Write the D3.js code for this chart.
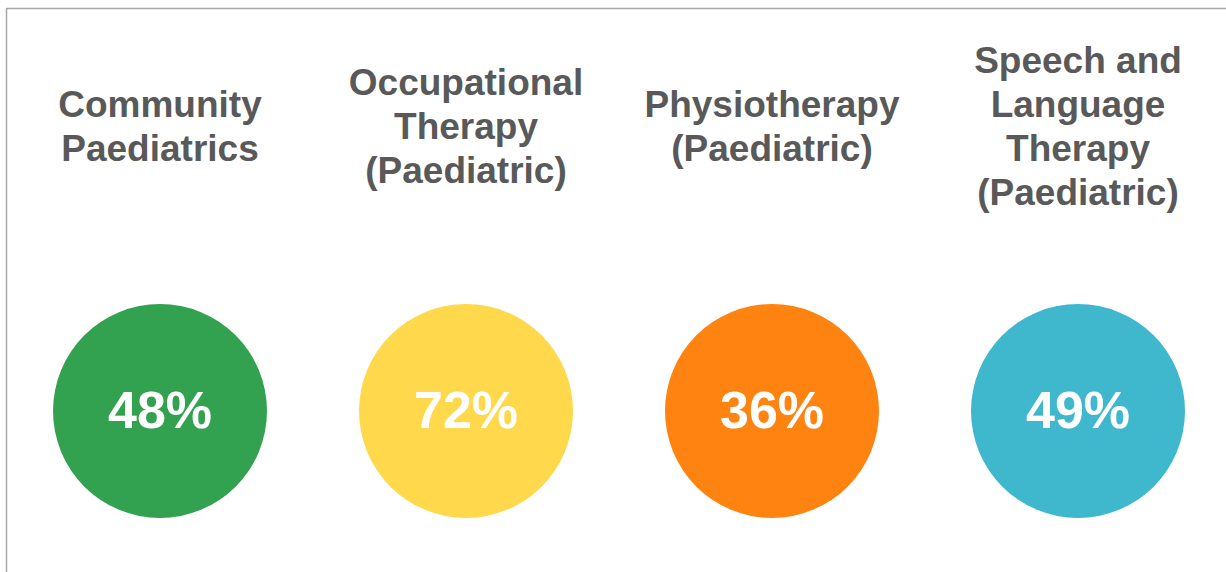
<!DOCTYPE html>
<html>
<head>
<meta charset="utf-8">
<script src="https://cdn.jsdelivr.net/npm/d3@7"></script>
<style>
    html, body { margin: 0; padding: 0; background: #fff; }
    svg { display: block; }
    .label { font-family: "Liberation Sans", Arial, sans-serif; font-weight: bold; fill: #595959; }
    .pct { font-family: "Liberation Sans", Arial, sans-serif; font-weight: bold; fill: #fff; }
</style>
</head>
<body>
<svg id="chart" width="1226" height="572"></svg>
<script>
// services shown across the top
const services = [
    "Community Paediatrics",
    "Occupational Therapy (Paediatric)",
    "Physiotherapy (Paediatric)",
    "Speech and Language Therapy (Paediatric)"
];
// how each label breaks onto lines
const labelLines = [
    ["Community", "Paediatrics"],
    ["Occupational", "Therapy", "(Paediatric)"],
    ["Physiotherapy", "(Paediatric)"],
    ["Speech and", "Language", "Therapy", "(Paediatric)"]
];
const percents = [48, 72, 36, 49];
const colors = ["#33a250", "#ffd84b", "#ff8311", "#3fb7cd"];

const svg = d3.select("#chart");
const width = +svg.attr("width"),
    height = +svg.attr("height");

const circleRadius = 107,
    circleY = 411,
    labelMidY = 126,
    lineGap = 44;

const x = d3.scaleBand()
    .domain(services)
    .range([7, 1231])
    .padding(0);

// frame: top and left rules only
svg.append("line")
    .attr("x1", 6.5).attr("x2", width)
    .attr("y1", 8.5).attr("y2", 8.5)
    .attr("stroke", "#a6a6a6").attr("stroke-width", 1.5);
svg.append("line")
    .attr("x1", 6.5).attr("x2", 6.5)
    .attr("y1", 8).attr("y2", height)
    .attr("stroke", "#a6a6a6").attr("stroke-width", 1.5);

const data = services.map((s, i) => ({ name: s, lines: labelLines[i], value: percents[i], color: colors[i] }));

const col = svg.selectAll(".col")
    .data(data)
    .enter().append("g")
    .attr("class", "col")
    .attr("transform", d => "translate(" + (x(d.name) + x.bandwidth() / 2) + ",0)");

col.append("text")
    .attr("class", "label")
    .attr("text-anchor", "middle")
    .style("font-size", "37px")
    .each(function(d) {
        const n = d.lines.length;
        const first = labelMidY - (n - 1) * lineGap / 2 + 13;
        d3.select(this).selectAll("tspan")
            .data(d.lines)
            .enter().append("tspan")
            .attr("x", 0)
            .attr("y", (l, i) => first + i * lineGap)
            .text(l => l);
    });

col.append("circle")
    .attr("cy", circleY)
    .attr("r", circleRadius)
    .attr("fill", d => d.color);

col.append("text")
    .attr("class", "pct")
    .attr("text-anchor", "middle")
    .attr("y", circleY + 17)
    .style("font-size", "52px")
    .text(d => d.value + "%");
</script>
</body>
</html>
